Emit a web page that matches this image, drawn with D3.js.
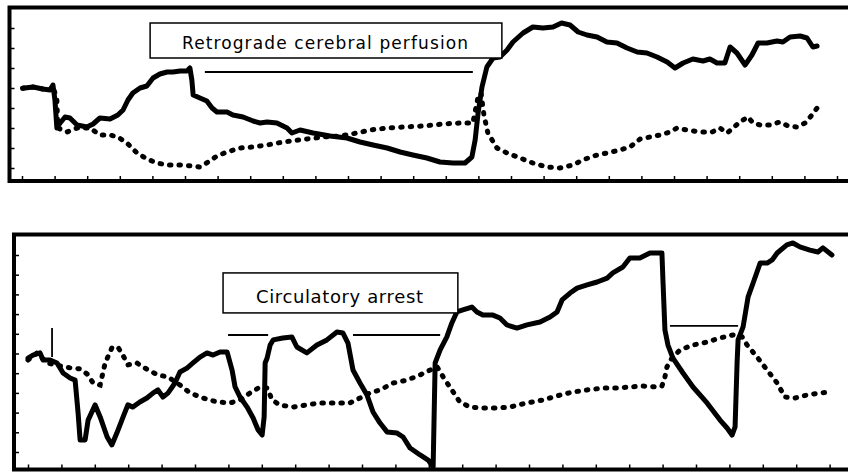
<!DOCTYPE html>
<html>
<head>
<meta charset="utf-8">
<script src="https://cdn.jsdelivr.net/npm/d3@7"></script>
<style>
  html, body { margin: 0; padding: 0; background: #fff; }
  svg { display: block; }
  .frame { fill: none; stroke: #000; stroke-width: 4; }
  .tick line { stroke: #000; stroke-width: 1.5; }
  .solid { fill: none; stroke: #000; stroke-width: 5; stroke-linejoin: round; stroke-linecap: round; }
  .dotted { fill: none; stroke: #000; stroke-width: 5; stroke-linecap: round; stroke-dasharray: 1.5 8; }
  .label-box { fill: #fff; stroke: #000; stroke-width: 1.5; }
  .label-text { font-family: "DejaVu Sans", Arial, sans-serif; fill: #000; }
  .period { stroke: #000; stroke-width: 1.8; }
</style>
</head>
<body>
<svg id="chart" width="848" height="473"></svg>
<script>
// x in time ticks, y in axis ticks
const top_solid = [
  [0.02, 3.99], [0.34, 4.05], [0.64, 3.95], [0.86, 3.9], [0.95, 4.15], [1.01, 3.4], [1.07, 2.0],
  [1.17, 2.25], [1.32, 2.55], [1.47, 2.5], [1.69, 2.15], [1.99, 2.05], [2.18, 2.2], [2.39, 2.5],
  [2.70, 2.45], [2.94, 2.65], [3.10, 2.9], [3.25, 3.4], [3.40, 3.75], [3.62, 4.0], [3.83, 4.1],
  [4.02, 4.5], [4.23, 4.7], [4.45, 4.8], [4.63, 4.8], [4.85, 4.85], [5.06, 4.85], [5.15, 5.0],
  [5.21, 4.4], [5.25, 3.65], [5.46, 3.5], [5.67, 3.35], [5.83, 3.0], [5.98, 2.8], [6.29, 2.8],
  [6.47, 2.65], [6.78, 2.55], [7.09, 2.35], [7.30, 2.25], [7.52, 2.3], [7.82, 2.25], [8.13, 2.0],
  [8.28, 1.75], [8.53, 1.9], [8.93, 1.75], [9.45, 1.6], [9.97, 1.5], [10.37, 1.3], [10.77, 1.15],
  [11.20, 1.0], [11.60, 0.8], [11.99, 0.65], [12.42, 0.5], [12.82, 0.3], [13.22, 0.25],
  [13.59, 0.25], [13.80, 0.55], [13.90, 1.4], [13.99, 2.75], [14.11, 4.05], [14.26, 5.05],
  [14.45, 5.5], [14.66, 5.55], [14.88, 5.9], [15.06, 6.3], [15.37, 6.75], [15.67, 7.05],
  [15.98, 7.0], [16.29, 7.05], [16.55, 7.25], [16.81, 7.15], [17.06, 6.8], [17.33, 6.65],
  [17.64, 6.55], [17.94, 6.3], [18.25, 6.25], [18.56, 6.0], [18.87, 5.8], [19.17, 5.75],
  [19.48, 5.55], [19.79, 5.3], [20.03, 5.0], [20.28, 5.25], [20.58, 5.45], [20.89, 5.35],
  [21.10, 5.45], [21.32, 5.25], [21.56, 5.25], [21.72, 6.05], [21.93, 5.75], [22.18, 5.15],
  [22.39, 5.65], [22.58, 6.25], [22.85, 6.25], [23.16, 6.35], [23.34, 6.3], [23.56, 6.55],
  [23.87, 6.6], [24.08, 6.5], [24.26, 6.05], [24.39, 6.1]
]

const top_dotted = [
  [0.02, 3.99], [0.34, 4.05], [0.64, 3.95], [0.86, 3.9], [0.95, 4.1], [1.07, 3.4], [1.10, 2.0],
  [1.38, 1.8], [1.69, 2.0], [2.09, 2.0], [2.39, 1.65], [2.70, 1.65], [2.94, 1.55], [3.22, 1.25],
  [3.53, 0.75], [3.83, 0.45], [4.14, 0.25], [4.45, 0.15], [4.85, 0.15], [5.21, 0.1], [5.46, 0.05],
  [5.71, 0.3], [5.98, 0.6], [6.29, 0.8], [6.69, 1.0], [7.09, 1.05], [7.52, 1.15], [8.01, 1.3],
  [8.47, 1.4], [8.74, 1.45], [9.23, 1.55], [9.75, 1.6], [10.28, 1.75], [10.67, 1.9], [11.20, 2.0],
  [11.69, 2.05], [12.30, 2.1], [12.91, 2.2], [13.44, 2.25], [13.83, 2.25], [13.99, 3.55],
  [14.08, 3.75], [14.17, 2.65], [14.29, 1.75], [14.57, 1.0], [14.88, 0.75], [15.28, 0.5],
  [15.67, 0.25], [16.10, 0.05], [16.50, 0.0], [16.90, 0.15], [17.21, 0.4], [17.52, 0.6],
  [17.94, 0.75], [18.34, 0.9], [18.65, 1.05], [18.96, 1.45], [19.26, 1.55], [19.57, 1.65],
  [19.88, 1.8], [20.09, 2.0], [20.40, 1.9], [20.80, 1.8], [21.17, 1.8], [21.41, 2.0], [21.63, 1.75],
  [21.81, 2.0], [22.02, 2.3], [22.27, 2.55], [22.42, 2.25], [22.64, 2.15], [22.94, 2.15],
  [23.25, 2.3], [23.50, 2.1], [23.77, 2.05], [24.02, 2.25], [24.23, 2.65], [24.39, 3.0]
]

const bottom_solid = [
  [0, 4.77], [0.15, 4.92], [0.36, 5.03], [0.45, 4.67], [0.66, 4.67], [0.87, 4.52], [1.05, 4.01],
  [1.26, 3.76], [1.41, 3.65], [1.50, 1.98], [1.56, 0.61], [1.71, 0.61], [1.80, 1.62], [2.01, 2.39],
  [2.16, 1.78], [2.37, 0.76], [2.51, 0.36], [2.66, 0.96], [2.81, 1.62], [2.99, 2.39], [3.14, 2.28],
  [3.35, 2.54], [3.56, 2.74], [3.74, 2.99], [3.89, 3.15], [4.04, 2.79], [4.19, 2.99], [4.40, 3.50],
  [4.55, 4.06], [4.76, 4.26], [4.94, 4.52], [5.15, 4.82], [5.36, 5.03], [5.54, 4.92], [5.75, 5.08],
  [5.96, 5.08], [6.11, 4.16], [6.20, 3.30], [6.35, 2.79], [6.56, 2.28], [6.74, 1.73], [6.89, 1.12],
  [7.01, 0.86], [7.07, 1.78], [7.10, 4.52], [7.16, 4.77], [7.25, 5.43], [7.34, 5.69], [7.63, 5.79],
  [7.90, 5.84], [8.05, 5.33], [8.35, 5.03], [8.65, 5.43], [8.95, 5.69], [9.25, 6.09], [9.43, 6.04],
  [9.58, 5.53], [9.73, 4.16], [9.94, 3.50], [10.15, 2.89], [10.33, 2.03], [10.54, 1.47],
  [10.75, 1.02], [11.05, 0.96], [11.23, 0.76], [11.44, 0.20], [11.74, -0.15], [11.98, -0.41],
  [12.13, -0.76], [12.19, 4.52], [12.34, 5.18], [12.54, 5.84], [12.69, 6.55], [12.84, 7.11],
  [13.02, 7.21], [13.29, 7.36], [13.44, 7.11], [13.62, 6.95], [13.92, 6.95], [14.13, 6.80],
  [14.34, 6.45], [14.64, 6.29], [14.94, 6.45], [15.33, 6.60], [15.63, 6.85], [15.84, 7.11],
  [15.99, 7.72], [16.23, 8.07], [16.44, 8.32], [16.74, 8.48], [17.04, 8.63], [17.34, 8.83],
  [17.51, 9.09], [17.81, 9.39], [18.02, 9.85], [18.32, 9.85], [18.62, 10.10], [18.98, 10.10],
  [19.01, 8.73], [19.07, 6.19], [19.16, 5.43], [19.31, 4.77], [19.61, 4.01], [19.91, 3.30],
  [20.33, 2.49], [20.72, 1.62], [20.93, 1.22], [21.08, 0.86], [21.17, 1.27], [21.23, 4.52],
  [21.26, 5.69], [21.41, 6.35], [21.56, 7.87], [21.71, 8.58], [21.92, 9.59], [22.13, 9.59],
  [22.28, 9.75], [22.43, 10.10], [22.72, 10.51], [22.90, 10.61], [23.11, 10.41], [23.41, 10.25],
  [23.65, 10.15], [23.80, 10.36], [24.07, 10.00]
]

const bottom_dotted = [
  [0, 4.67], [0.27, 5.03], [0.57, 4.52], [0.96, 4.37], [1.26, 4.27], [1.56, 4.22], [1.77, 3.96],
  [1.95, 3.50], [2.16, 3.40], [2.31, 4.52], [2.51, 5.28], [2.69, 5.33], [2.84, 4.92], [2.99, 4.42],
  [3.26, 4.52], [3.44, 4.32], [3.71, 4.06], [3.89, 3.91], [4.19, 3.81], [4.55, 3.40], [4.85, 3.00],
  [5.24, 2.74], [5.66, 2.54], [6.05, 2.49], [6.35, 2.64], [6.65, 3.00], [6.95, 3.30], [7.16, 3.25],
  [7.31, 2.64], [7.54, 2.39], [7.93, 2.28], [8.35, 2.39], [8.74, 2.49], [9.13, 2.49], [9.64, 2.49],
  [9.94, 2.74], [10.24, 3.00], [10.54, 3.15], [10.93, 3.50], [11.35, 3.65], [11.74, 3.91],
  [12.04, 4.16], [12.25, 4.32], [12.43, 3.81], [12.63, 3.30], [12.93, 2.54], [13.23, 2.28],
  [13.62, 2.23], [14.04, 2.23], [14.43, 2.28], [14.94, 2.49], [15.42, 2.64], [15.93, 2.89],
  [16.32, 3.05], [16.74, 3.15], [17.22, 3.25], [17.63, 3.25], [18.02, 3.30], [18.41, 3.35],
  [18.83, 3.30], [18.98, 3.35], [19.07, 3.81], [19.13, 4.32], [19.28, 4.77], [19.52, 5.18],
  [19.91, 5.43], [20.33, 5.58], [20.72, 5.79], [21.11, 5.94], [21.38, 5.84], [21.53, 5.43],
  [21.83, 4.82], [22.13, 4.16], [22.43, 3.50], [22.66, 2.79], [22.96, 2.74], [23.32, 2.89],
  [23.71, 3.00], [24.07, 3.05]
]

const x_ticks = d3.range(0, 26)
const top_y_ticks = d3.range(0, 8)
const bottom_y_ticks = d3.range(0, 11)

const top_label = 'Retrograde cerebral perfusion'
const bottom_label = 'Circulatory arrest'

// label boxes [x0, x1, yTop, yBottom] in data units
const top_label_box = [3.93, 14.72, 7.25, 5.5]
const bottom_label_box = [5.84, 12.87, 9.09, 7.06]

// horizontal period bars [x0, x1, y]
const top_periods = [[5.61, 13.83, 4.8]]
const bottom_periods = [[5.99, 7.19, 5.94], [9.73, 12.34, 5.94], [19.22, 21.26, 6.4]]
// short vertical marker [x, y0, y1]
const bottom_markers = [[0.72, 6.29, 4.82]]

const svg = d3.select('#chart')

function draw_panel ({ frame, x_range, y_domain, y_range, y_ticks, solid, dotted, label, label_box, font_size, text_width, periods, markers }) {
  const x = d3.scaleLinear().domain([0, 24]).range(x_range)
  const y = d3.scaleLinear().domain(y_domain).range(y_range)
  const g = svg.append('g')

  g.append('rect')
    .attr('class', 'frame')
    .attr('x', frame.left)
    .attr('y', frame.top)
    .attr('width', frame.right - frame.left)
    .attr('height', frame.bottom - frame.top)

  // ticks point inward, no labels
  g.append('g')
    .attr('transform', `translate(${frame.left},0)`)
    .call(d3.axisRight(y).tickValues(y_ticks).tickSize(5).tickFormat(''))
    .call(a => a.select('.domain').remove())

  g.append('g')
    .attr('transform', `translate(0,${frame.bottom})`)
    .call(d3.axisTop(x).tickValues(x_ticks).tickSize(5).tickFormat(''))
    .call(a => a.select('.domain').remove())

  const line = d3.line().x(d => x(d[0])).y(d => y(d[1]))

  g.append('path').attr('class', 'dotted').attr('d', line(dotted))
  g.append('path').attr('class', 'solid').attr('d', line(solid))

  g.selectAll('.period').data(periods)
    .enter().append('line')
    .attr('class', 'period')
    .attr('x1', d => x(d[0]))
    .attr('x2', d => x(d[1]))
    .attr('y1', d => y(d[2]))
    .attr('y2', d => y(d[2]))

  g.selectAll('.marker').data(markers)
    .enter().append('line')
    .attr('class', 'period')
    .attr('x1', d => x(d[0]))
    .attr('x2', d => x(d[0]))
    .attr('y1', d => y(d[1]))
    .attr('y2', d => y(d[2]))

  const [bx0, bx1, by0, by1] = label_box
  g.append('rect')
    .attr('class', 'label-box')
    .attr('x', x(bx0))
    .attr('y', y(by0))
    .attr('width', x(bx1) - x(bx0))
    .attr('height', y(by1) - y(by0))

  g.append('text')
    .attr('class', 'label-text')
    .attr('x', (x(bx0) + x(bx1)) / 2 - 1)
    .attr('y', y(by1) - (y(by1) - y(by0)) * 0.25)
    .attr('text-anchor', 'middle')
    .attr('font-size', font_size)
    .attr('textLength', text_width)
    .attr('lengthAdjust', 'spacing')
    .text(label)
}

draw_panel({
  frame: { left: 9.5, top: 7.5, right: 870, bottom: 181 },
  x_range: [22, 22 + 24 * 32.6],
  y_domain: [0, 7],
  y_range: [168, 28],
  y_ticks: top_y_ticks,
  solid: top_solid,
  dotted: top_dotted,
  label: top_label,
  label_box: top_label_box,
  font_size: 17,
  text_width: 286,
  periods: top_periods,
  markers: []
})

draw_panel({
  frame: { left: 14, top: 234.5, right: 870, bottom: 469.5 },
  x_range: [28, 28 + 24 * 33.4],
  y_domain: [0, 10],
  y_range: [452, 255],
  y_ticks: bottom_y_ticks,
  solid: bottom_solid,
  dotted: bottom_dotted,
  label: bottom_label,
  label_box: bottom_label_box,
  font_size: 18,
  text_width: 167,
  periods: bottom_periods,
  markers: bottom_markers
})
</script>
</body>
</html>
